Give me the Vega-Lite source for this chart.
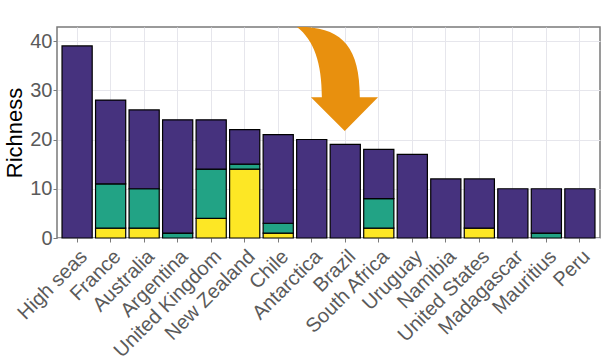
{
  "$schema": "https://vega.github.io/schema/vega-lite/v6.json",
  "autosize": {"type": "none"},
  "width": 543,
  "height": 211,
  "padding": {"left": 57, "top": 27, "right": 9, "bottom": 125},
  "background": "white",
  "config": {
    "font": "Liberation Sans",
    "view": {"stroke": "#7a7a7a", "strokeWidth": 1.5},
    "axis": {"domain": false}
  },
  "datasets": {
    "richness": [
      {"country": "High seas", "type": "Widespread", "value": 39},
      {"country": "France", "type": "Endemic", "value": 2},
      {"country": "France", "type": "Regional", "value": 9},
      {"country": "France", "type": "Widespread", "value": 17},
      {"country": "Australia", "type": "Endemic", "value": 2},
      {"country": "Australia", "type": "Regional", "value": 8},
      {"country": "Australia", "type": "Widespread", "value": 16},
      {"country": "Argentina", "type": "Regional", "value": 1},
      {"country": "Argentina", "type": "Widespread", "value": 23},
      {"country": "United Kingdom", "type": "Endemic", "value": 4},
      {"country": "United Kingdom", "type": "Regional", "value": 10},
      {"country": "United Kingdom", "type": "Widespread", "value": 10},
      {"country": "New Zealand", "type": "Endemic", "value": 14},
      {"country": "New Zealand", "type": "Regional", "value": 1},
      {"country": "New Zealand", "type": "Widespread", "value": 7},
      {"country": "Chile", "type": "Endemic", "value": 1},
      {"country": "Chile", "type": "Regional", "value": 2},
      {"country": "Chile", "type": "Widespread", "value": 18},
      {"country": "Antarctica", "type": "Widespread", "value": 20},
      {"country": "Brazil", "type": "Widespread", "value": 19},
      {"country": "South Africa", "type": "Endemic", "value": 2},
      {"country": "South Africa", "type": "Regional", "value": 6},
      {"country": "South Africa", "type": "Widespread", "value": 10},
      {"country": "Uruguay", "type": "Widespread", "value": 17},
      {"country": "Namibia", "type": "Widespread", "value": 12},
      {"country": "United States", "type": "Endemic", "value": 2},
      {"country": "United States", "type": "Widespread", "value": 10},
      {"country": "Madagascar", "type": "Widespread", "value": 10},
      {"country": "Mauritius", "type": "Regional", "value": 1},
      {"country": "Mauritius", "type": "Widespread", "value": 9},
      {"country": "Peru", "type": "Widespread", "value": 10}
    ],
    "arrow": [
      {"country": "Brazil", "value": 32.3}
    ]
  },
  "encoding": {
    "x": {
      "field": "country",
      "type": "nominal",
      "sort": ["High seas", "France", "Australia", "Argentina", "United Kingdom", "New Zealand", "Chile", "Antarctica", "Brazil", "South Africa", "Uruguay", "Namibia", "United States", "Madagascar", "Mauritius", "Peru"],
      "scale": {"paddingInner": 0.1, "paddingOuter": 0.15},
      "axis": {
        "title": null,
        "labelAngle": -45,
        "labelAlign": "right",
        "labelBaseline": "top",
        "labelFontSize": 20,
        "labelColor": "#5a5a5a",
        "labelPadding": 4,
        "tickSize": 4,
        "tickColor": "#7a7a7a",
        "grid": true,
        "gridColor": "#e6e6ec",
        "gridWidth": 1,
        "bandPosition": 0.5
      }
    }
  },
  "layer": [
    {
      "data": {"name": "richness"},
      "mark": {"type": "bar", "stroke": "black", "strokeWidth": 1.2},
      "encoding": {
        "y": {
          "field": "value",
          "type": "quantitative",
          "stack": "zero",
          "scale": {"domain": [0, 42.85], "nice": false, "zero": true},
          "axis": {
            "title": "Richness",
            "titleFontSize": 22,
            "titleFontWeight": "normal",
            "titleColor": "black",
            "titlePadding": 3,
            "values": [0, 5, 10, 15, 20, 25, 30, 35, 40],
            "labelExpr": "datum.value % 10 == 0 ? datum.label : ''",
            "labelFontSize": 20,
            "labelColor": "#5a5a5a",
            "labelPadding": 1,
            "tickSize": 4,
            "tickColor": {"condition": {"test": "datum.value % 10 == 0", "value": "#7a7a7a"}, "value": "transparent"},
            "grid": true,
            "gridColor": "#e6e6ec",
            "gridWidth": {"condition": {"test": "datum.value % 10 == 0", "value": 1}, "value": 0.6}
          }
        },
        "color": {
          "field": "type",
          "type": "nominal",
          "scale": {"domain": ["Endemic", "Regional", "Widespread"], "range": ["#FDE725", "#22A385", "#46327E"]},
          "legend": null
        },
        "order": {"field": "type", "sort": "ascending"}
      }
    },
    {
      "data": {"name": "arrow"},
      "mark": {
        "type": "point",
        "filled": true,
        "opacity": 1,
        "color": "#E8900E",
        "size": 10816,
        "shape": "M -0.93 -1 L -0.75 -1 C -0.05 -0.95 0.28 -0.6 0.28 0.35 L 0.63 0.35 L -0.01 1 L -0.66 0.35 L -0.45 0.35 C -0.45 -0.3 -0.6 -0.75 -0.93 -1 Z"
      },
      "encoding": {
        "y": {"field": "value", "type": "quantitative"}
      }
    }
  ]
}
